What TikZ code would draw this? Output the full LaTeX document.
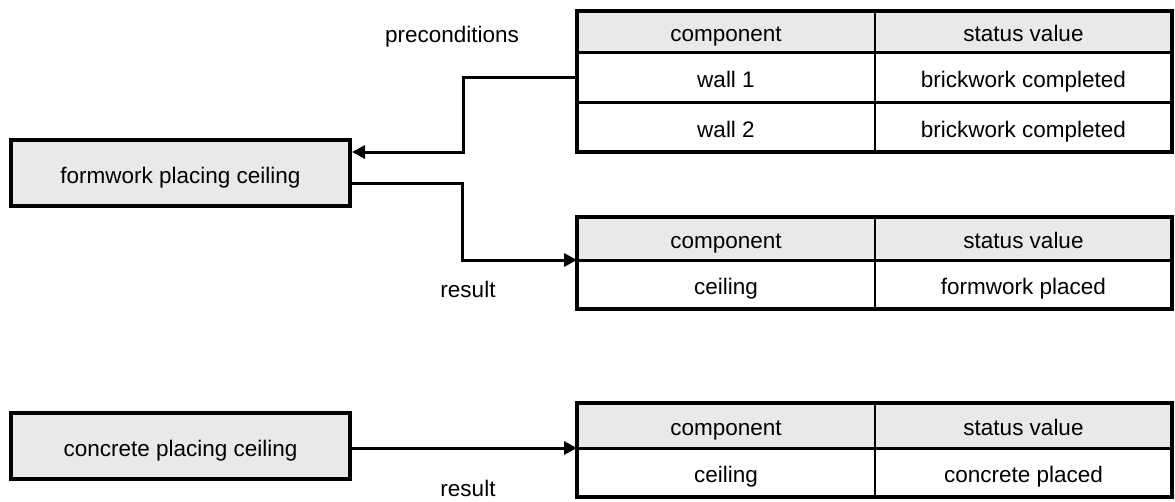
\documentclass[tikz,border=0pt]{standalone}
\usepackage{fontspec}
\setmainfont{Liberation Sans}
\usetikzlibrary{arrows.meta,calc}
\definecolor{hdr}{RGB}{233,233,233}
\begin{document}
\begin{tikzpicture}[x=1pt,y=-1pt,
  txt/.style={font=\fontsize{22.5}{26}\selectfont, text height=20pt, text depth=0pt},
  cell/.style={draw, line width=1.5pt, inner sep=0pt, outer sep=0pt, anchor=north west, txt},
  hcell/.style={cell, fill=hdr},
  proc/.style={draw, line width=4pt, fill=hdr, inner sep=0pt, minimum width=339pt, minimum height=66pt, txt},
  frame/.style={line width=4pt},
  sep/.style={line width=3pt},
  conn/.style={line width=3pt},
  arr/.style={conn, -{Triangle[length=13pt,width=13pt]}}
]
\useasboundingbox (0,0) rectangle (1175,501);

% Table 1
\node[hcell, minimum width=298pt, minimum height=41pt] (t1h1) at (577,11) {component};
\node[hcell, minimum width=297pt, minimum height=41pt] (t1h2) at (875,11) {status value};
\node[cell, minimum width=298pt, minimum height=50pt] (t1a1) at (577,52) {wall 1};
\node[cell, minimum width=297pt, minimum height=50pt] (t1a2) at (875,52) {brickwork completed};
\node[cell, minimum width=298pt, minimum height=50pt] (t1b1) at (577,102) {wall 2};
\node[cell, minimum width=297pt, minimum height=50pt] (t1b2) at (875,102) {brickwork completed};
\draw[sep] (t1h1.south west) -- (t1h2.south east);
\draw[sep] (t1a1.south west) -- (t1a2.south east);
\draw[frame] (t1h1.north west) rectangle (t1b2.south east);

% Table 2
\node[hcell, minimum width=298pt, minimum height=43pt] (t2h1) at (577,217) {component};
\node[hcell, minimum width=297pt, minimum height=43pt] (t2h2) at (875,217) {status value};
\node[cell, minimum width=298pt, minimum height=49pt] (t2a1) at (577,260) {ceiling};
\node[cell, minimum width=297pt, minimum height=49pt] (t2a2) at (875,260) {formwork placed};
\draw[sep] (t2h1.south west) -- (t2h2.south east);
\draw[frame] (t2h1.north west) rectangle (t2a2.south east);

% Table 3
\node[hcell, minimum width=298pt, minimum height=45pt] (t3h1) at (577,403) {component};
\node[hcell, minimum width=297pt, minimum height=45pt] (t3h2) at (875,403) {status value};
\node[cell, minimum width=298pt, minimum height=49pt] (t3a1) at (577,448) {ceiling};
\node[cell, minimum width=297pt, minimum height=49pt] (t3a2) at (875,448) {concrete placed};
\draw[sep] (t3h1.south west) -- (t3h2.south east);
\draw[frame] (t3h1.north west) rectangle (t3a2.south east);

% Process boxes
\node[proc] (b1) at (180.5,173) {formwork placing ceiling};
\node[proc] (b2) at (180.5,446) {concrete placing ceiling};

% Labels
\node[txt] (lpre) at (452,32) {preconditions};
\node[txt] (lres1) at (468,287.5) {result};
\node[txt] (lres2) at (468,486) {result};

% Connectors
\draw[arr] (t1a1.west) -- ++(-114,0) |- (b1.east |- t1b1.south west);
\draw[arr] ($(b1.east)+(0,10)$) -| (462,230) |- (t2h1.south west);
\draw[arr] (b2.east |- t3h1.south west) -- (t3h1.south west);
\end{tikzpicture}
\end{document}
